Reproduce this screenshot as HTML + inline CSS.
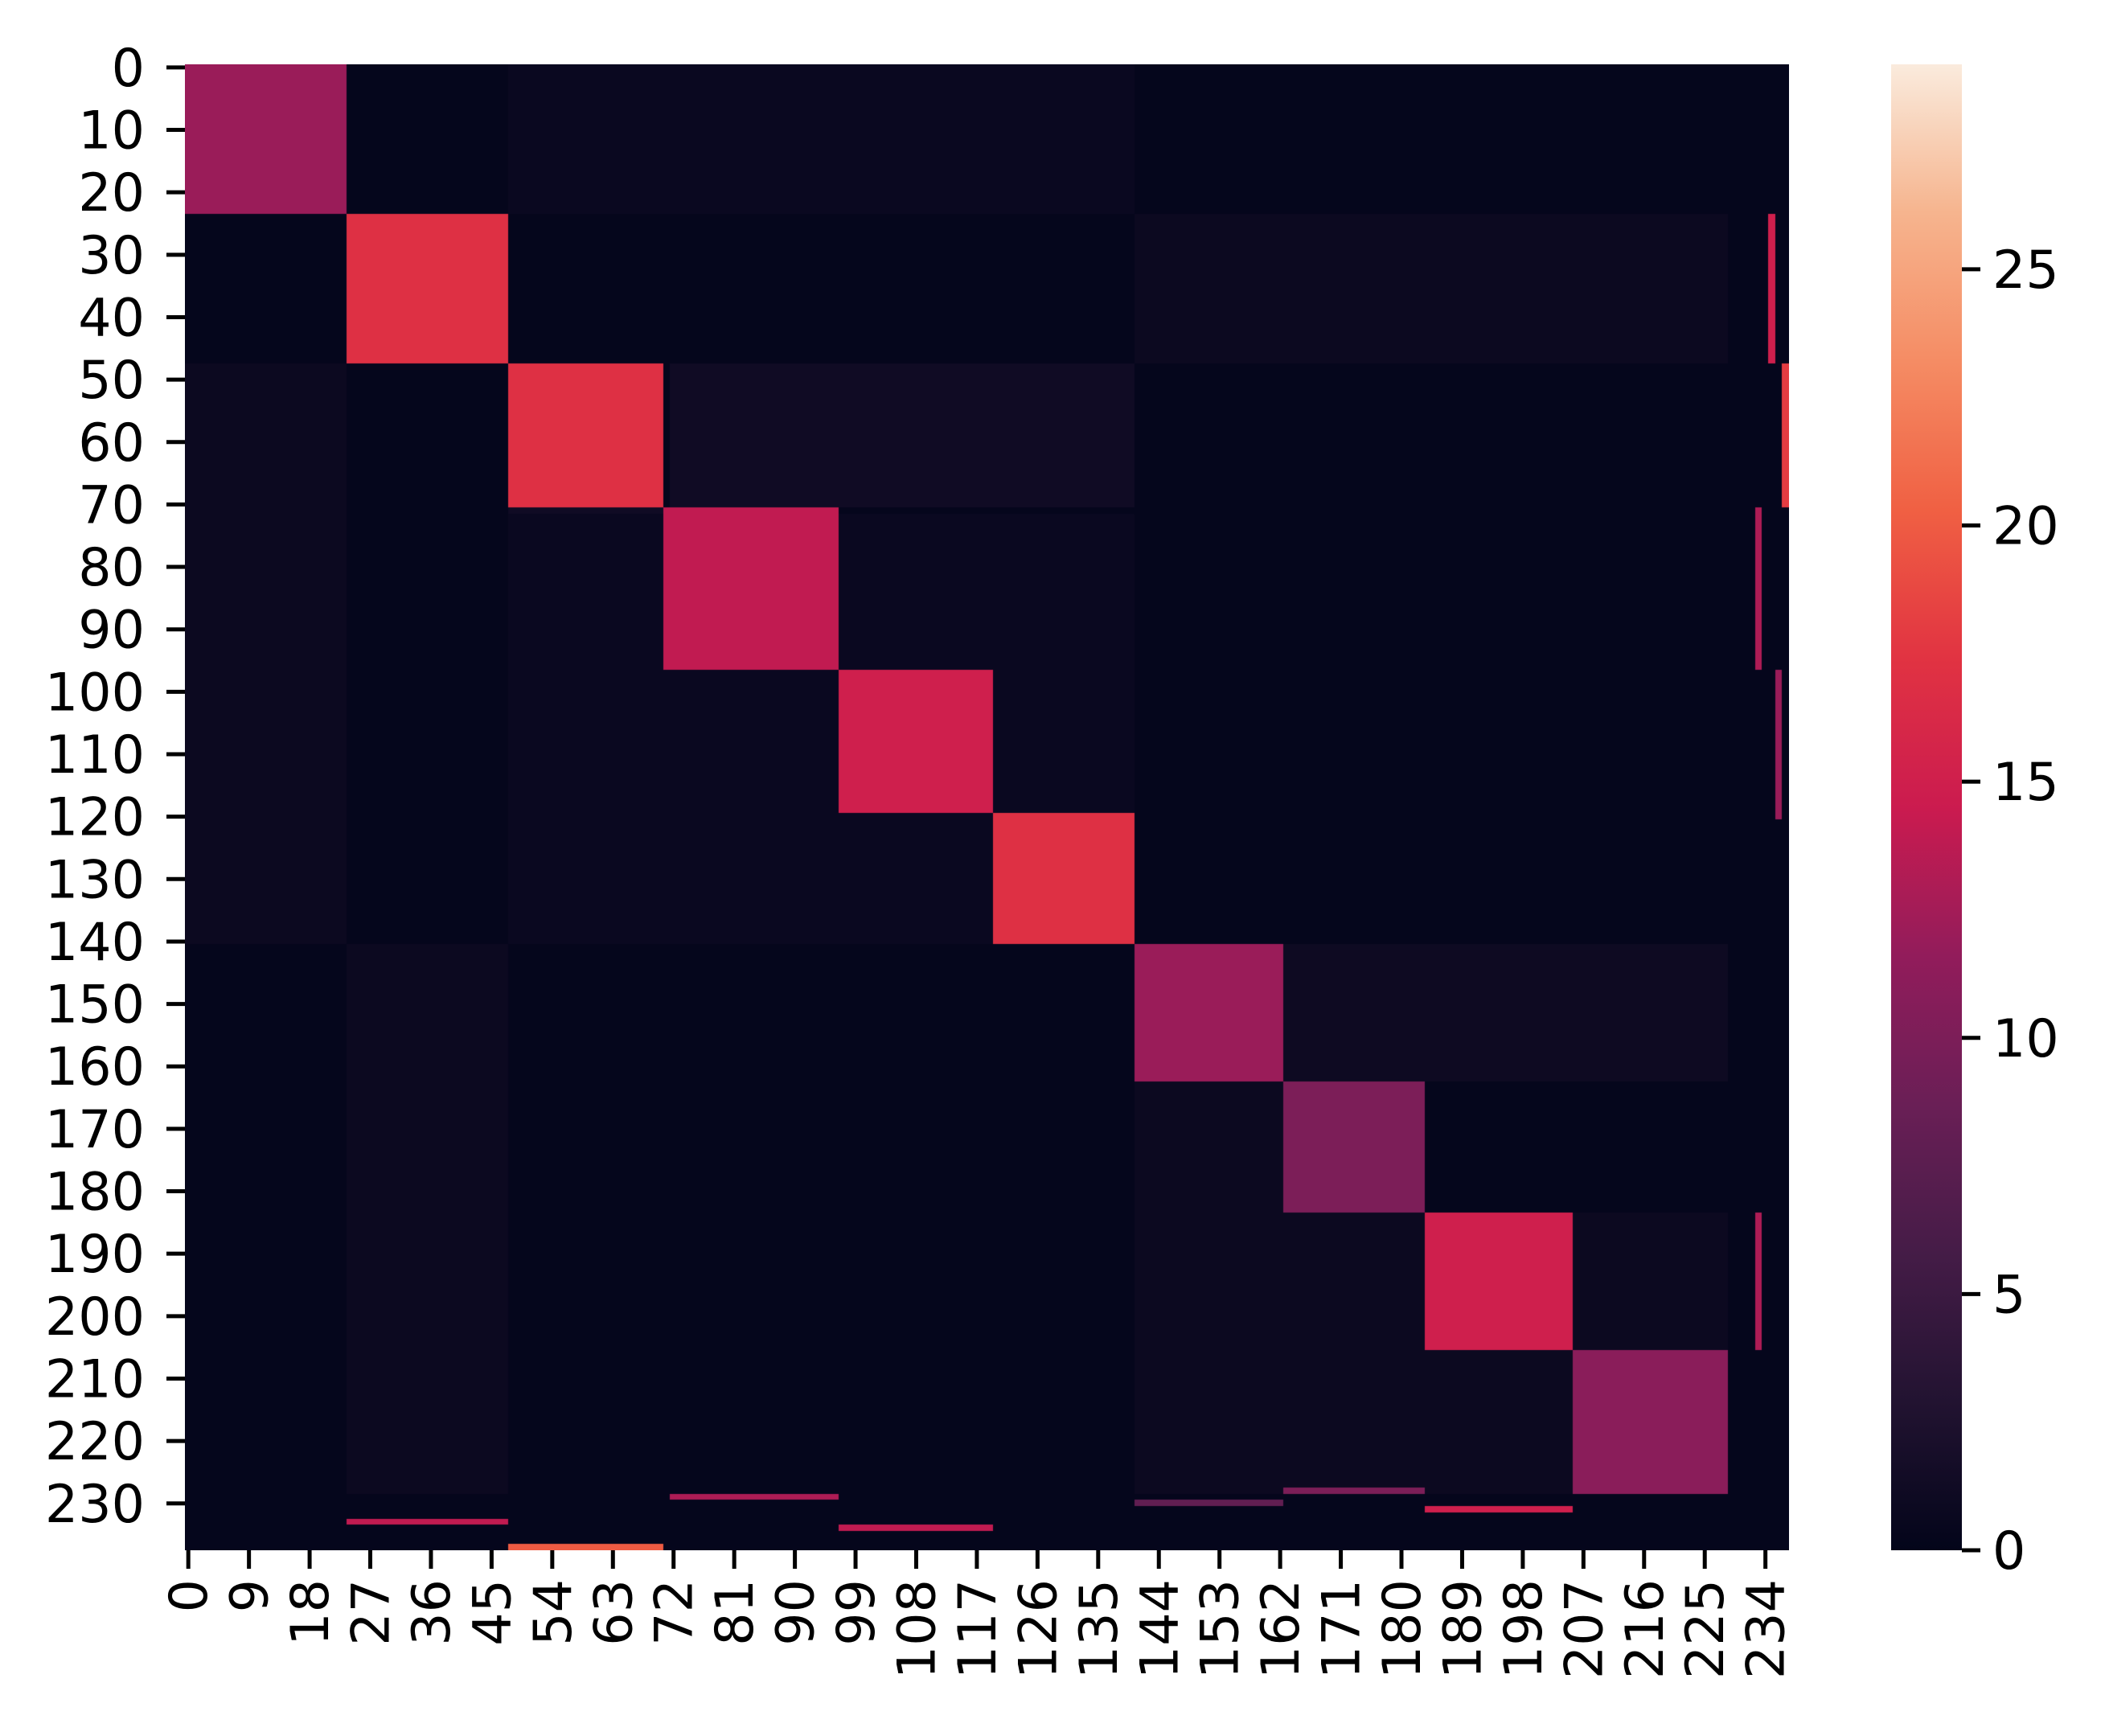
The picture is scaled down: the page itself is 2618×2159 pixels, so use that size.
<!DOCTYPE html>
<html><head><meta charset="utf-8">
<style>
html,body{margin:0;padding:0;background:#fff;}
#wrap{position:relative;width:2618px;height:2159px;overflow:hidden;font-family:"DejaVu Sans","Liberation Sans",sans-serif;}
svg text{font-family:"DejaVu Sans","Liberation Sans",sans-serif;}
</style></head>
<body>
<div id="wrap">
<canvas id="cv" width="1995" height="1848" style="position:absolute;left:230px;top:80px;"></canvas>
<svg id="ov" width="2618" height="2159" style="position:absolute;left:0;top:0;">
<defs><linearGradient id="cg" x1="0" y1="1" x2="0" y2="0">
<stop offset="0" stop-color="#03051a"/><stop offset="0.1" stop-color="#221331"/><stop offset="0.2" stop-color="#451c47"/><stop offset="0.3" stop-color="#6a1f56"/><stop offset="0.4" stop-color="#921c5b"/><stop offset="0.5" stop-color="#cb1b4f"/><stop offset="0.6" stop-color="#e13342"/><stop offset="0.7" stop-color="#f06043"/><stop offset="0.8" stop-color="#f58c64"/><stop offset="0.9" stop-color="#f6b48e"/><stop offset="1" stop-color="#faebdd"/>
</linearGradient></defs>
<rect x="2352" y="80" width="88" height="1848" fill="url(#cg)"/>
<g id="axes"></g>
</svg>
</div>
<script>
const nCells = 238;
const vmax = 29;
const background = 0.2;
const blockStarts = [0, 24, 48, 71, 97, 120, 141, 163, 184, 206];
const blockEnds   = [23, 47, 70, 96, 119, 140, 162, 183, 205, 228];
const blockValues = [12, 17, 17, 14, 15, 17, 12, 10, 15, 11];
// off-diagonal regions: row0,row1,col0,col1,value
const linkRow0 = [97, 120, 48, 71, 24, 141, 141, 163, 184, 206, 141, 24, 48, 0, 72];
const linkRow1 = [119, 140, 70, 96, 47, 162, 228, 228, 228, 228, 228, 47, 140, 23, 140];
const linkCol0 = [120, 97, 72, 48, 141, 163, 24, 141, 141, 141, 141, 184, 0, 48, 48];
const linkCol1 = [140, 119, 140, 70, 228, 228, 47, 162, 228, 228, 162, 228, 23, 140, 140];
const linkValues = [3, 3, 1.2, 1.2, 0.8, 1.0, 0.8, 0.8, 0.8, 0.8, 0.8, 0.8, 0.8, 0.7, 0.7];
// strips: row0,row1,col0,col1,value
const stripRow0 = [24, 48, 71, 97, 184, 233, 237, 229, 234, 231, 230, 228];
const stripRow1 = [47, 70, 96, 120, 205, 233, 237, 229, 234, 231, 230, 228];
const stripCol0 = [235, 237, 233, 236, 233, 24, 48, 72, 97, 184, 141, 163];
const stripCol1 = [235, 237, 233, 236, 233, 47, 70, 96, 119, 205, 162, 183];
const stripValues = [15, 18, 13, 12, 13, 14, 20, 13, 14, 15, 8, 10];
const cbTicks = [0, 5, 10, 15, 20, 25];

const PX0 = 230, PX1 = 2225, PY0 = 80, PY1 = 1928;
const cw = (PX1 - PX0) / nCells, ch = (PY1 - PY0) / nCells;
function xOf(i){ return i * cw; }
function yOf(i){ return i * ch; }
const stops = [[3,5,26],[34,19,49],[69,28,71],[106,31,86],[146,28,91],[203,27,79],[225,51,66],[240,96,67],[245,140,100],[246,180,142],[250,235,221]];
function color(v){
  let t = Math.max(0, Math.min(1, v / vmax)) * 10;
  let i = Math.min(9, Math.floor(t)), f = t - i;
  const a = stops[i], b = stops[i+1];
  return 'rgb(' + a.map((c,k)=>Math.round(c + (b[k]-c)*f)).join(',') + ')';
}
const M = [];
for (let r = 0; r < nCells; r++){ M.push(new Array(nCells).fill(background)); }
function fill(r0,r1,c0,c1,v){ for(let r=r0;r<=r1;r++) for(let c=c0;c<=c1;c++) M[r][c]=v; }
linkValues.forEach((v,k)=>fill(linkRow0[k],linkRow1[k],linkCol0[k],linkCol1[k],v));
blockValues.forEach((v,k)=>fill(blockStarts[k],blockEnds[k],blockStarts[k],blockEnds[k],v));
stripValues.forEach((v,k)=>fill(stripRow0[k],stripRow1[k],stripCol0[k],stripCol1[k],v));
const ctx = document.getElementById('cv').getContext('2d');
for (let r = 0; r < nCells; r++) for (let c = 0; c < nCells; c++){
  ctx.fillStyle = color(M[r][c]);
  ctx.fillRect(Math.floor(xOf(c)), Math.floor(yOf(r)), Math.ceil(cw)+1, Math.ceil(ch)+1);
}
const NS = 'http://www.w3.org/2000/svg';
const g = document.getElementById('axes');
function mk(tag, attrs, txt){ const e = document.createElementNS(NS, tag); for (const k in attrs) e.setAttribute(k, attrs[k]); if (txt !== undefined) e.textContent = txt; g.appendChild(e); return e; }
for (let i = 0; i < nCells; i += 10){
  const y = PY0 + yOf(i) + ch/2;
  const t = mk('line', {x1:207, x2:230, y1:y, y2:y, stroke:'#000', 'stroke-width':5});
  
  
  const l = mk('text', {x:180, y:y+23, 'text-anchor':'end', 'font-size':65}, String(i));
  
  
}
for (let i = 0; i < nCells; i += 9){
  const x = PX0 + xOf(i) + cw/2;
  const t = mk('line', {x1:x, x2:x, y1:1928, y2:1951, stroke:'#000', 'stroke-width':5});
  
  
  const l = mk('text', {x:0, y:0, 'text-anchor':'end', 'font-size':65, transform:'translate(' + (x+23) + ',1964) rotate(-90)'}, String(i));
  
  
}
cbTicks.forEach(v=>{
  const y = 1928 - v / vmax * 1848;
  const t = mk('line', {x1:2440, x2:2463, y1:y, y2:y, stroke:'#000', 'stroke-width':5});
  
  
  const l = mk('text', {x:2478, y:y+23, 'font-size':65}, String(v));
  
  
});
</script>
</body></html>
